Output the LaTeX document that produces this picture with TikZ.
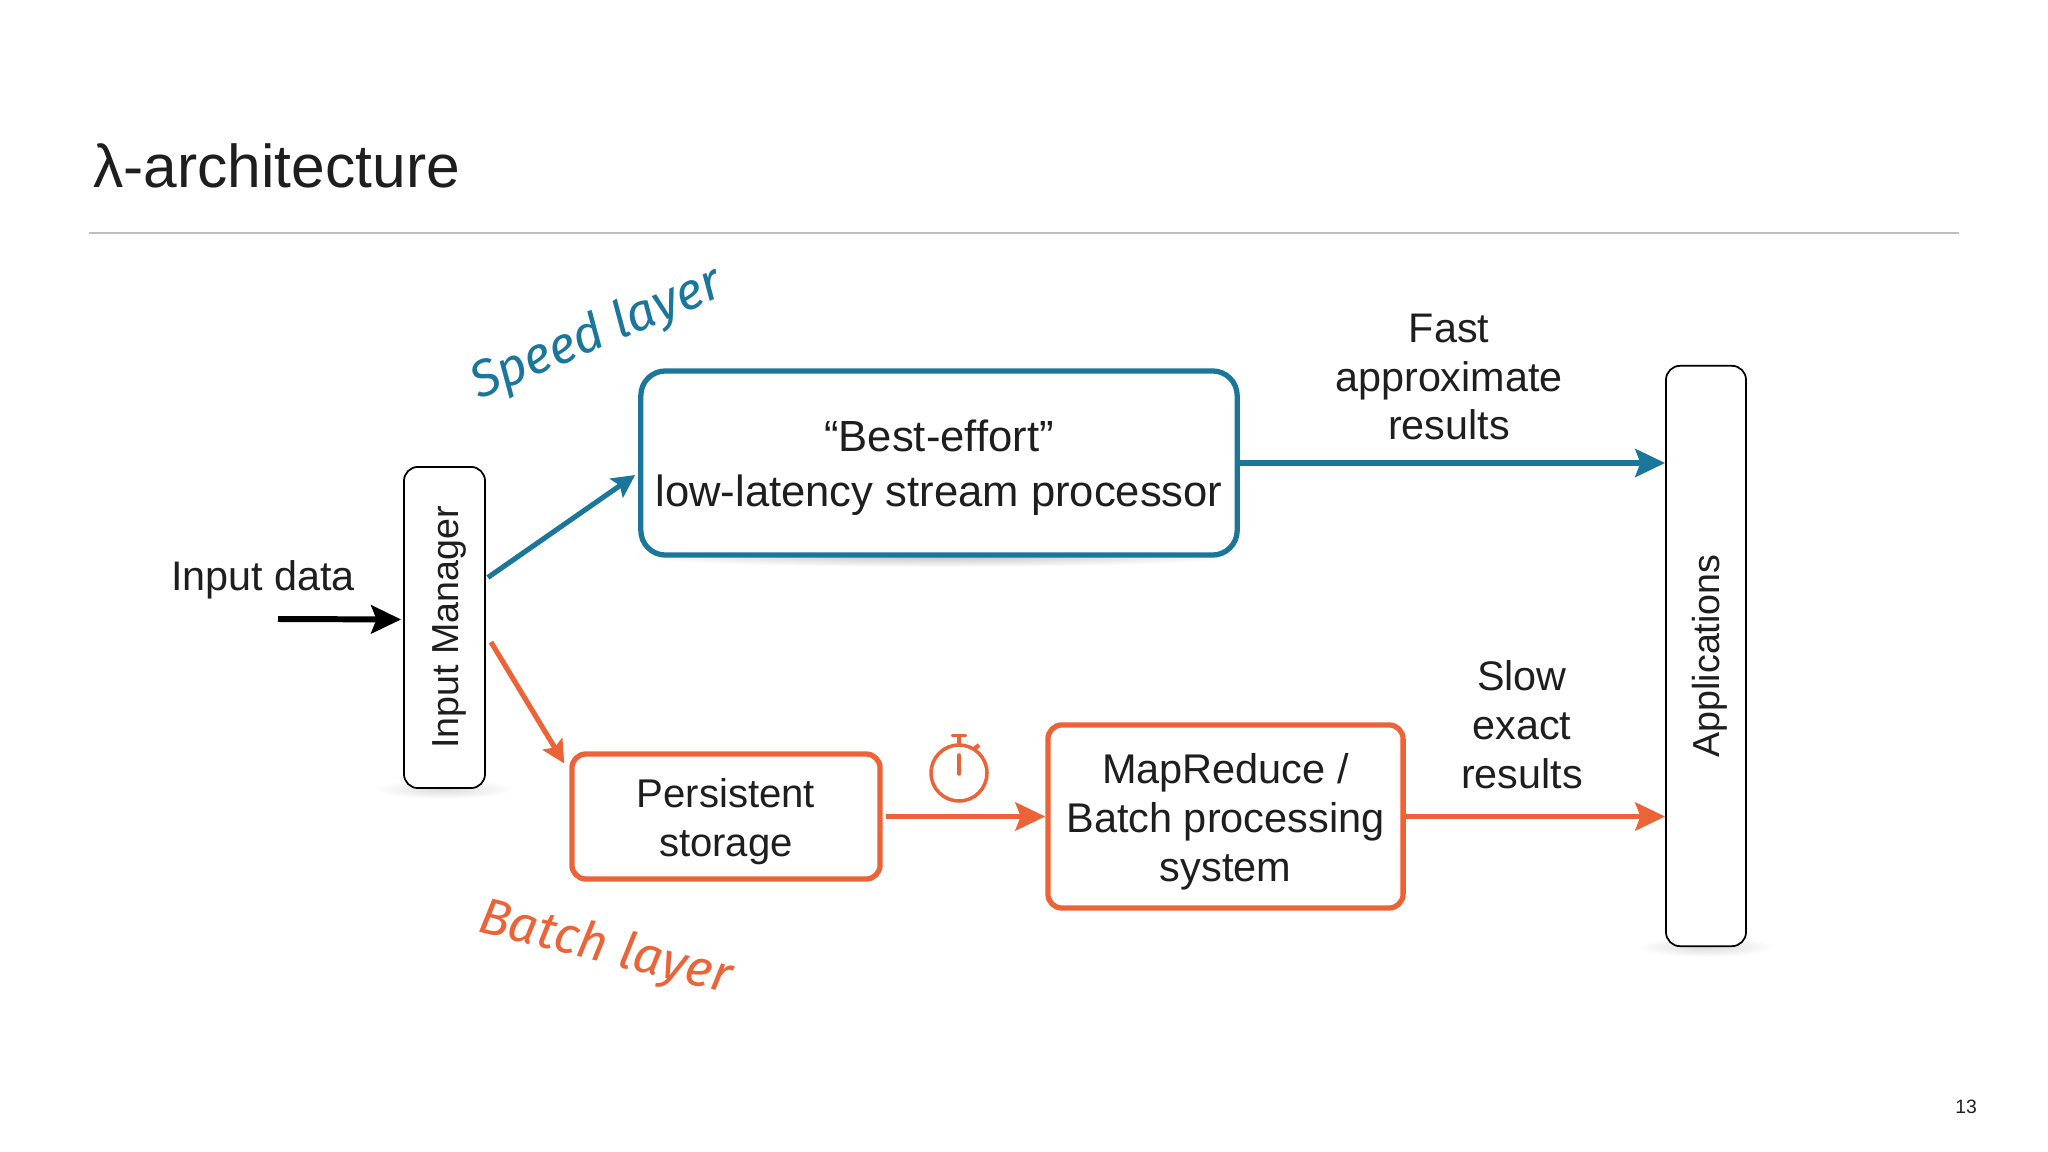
\documentclass[tikz,border=0pt]{standalone}
\usepackage{fontspec}
\setmainfont{Liberation Sans}
\newfontfamily\handfont{Fira Sans}
\usetikzlibrary{arrows.meta}
\definecolor{speedblue}{HTML}{1B769C}
\definecolor{batchorange}{HTML}{EC6337}
\definecolor{inktext}{HTML}{1E1E1E}
\tikzset{
	layerbox/.style = {draw, fill=white, text=inktext, rounded corners=4pt, line width=1.5pt, align=center, inner sep=0pt, font=\fontsize{11.7}{14.2}\selectfont},
	plainbox/.style = {draw=black, fill=white, text=inktext, rounded corners=4pt, line width=0.5pt, inner sep=0pt, font=\fontsize{10.7}{13}\selectfont},
	flow/.style = {line width=1.5pt, -{Stealth[length=8.5pt, width=8pt, inset=1.5pt]}},
	flowthin/.style = {line width=1.45pt, -{Stealth[length=6.5pt, width=6.5pt, inset=1.2pt]}},
	caption/.style = {align=center, text=inktext, font=\fontsize{11.75}{13.9}\selectfont},
	hand/.style = {font=\handfont\itshape\fontsize{14.6}{18}\selectfont},
	softshadow/.style = {inner color=black!14, outer color=white}
}
\begin{document}
\begin{tikzpicture}[x = 0.01cm, y = -0.01cm]
			\useasboundingbox (0, 0) rectangle (2048, 1152);
			\node[anchor=west, text=inktext, font=\fontsize{17.2}{20}\selectfont] (title) at (81, 166) {λ-architecture};
			\draw[gray!50, line width=0.5pt] (89, 233) -- (1959, 233);
			\node[text=inktext, font=\fontsize{5.5}{7}\selectfont] (page) at (1966, 1107) {13};

			\shade[softshadow, inner color=black!24] (939, 556) ellipse (310 and 11);
			\shade[softshadow] (444, 789) ellipse (70 and 10);
			\shade[softshadow] (1706, 947) ellipse (70 and 10);

			\node[layerbox, draw=speedblue, rounded corners=7pt, minimum width=5.96cm, minimum height=1.84cm, font=\fontsize{12.4}{15.6}\selectfont] (best) at (939, 463) {\rule{0pt}{11.5pt}“Best-effort”\\low-latency stream processor};
			\node[plainbox, rotate=90, minimum width=3.21cm, minimum height=0.81cm] (inmgr) at (444.5, 627.5) {\rule{0pt}{10pt}Input Manager};
			\node[plainbox, rotate=90, minimum width=5.8cm, minimum height=0.8cm] (apps) at (1706, 656) {\rule{0pt}{10pt}Applications};
			\node[layerbox, draw=batchorange, minimum width=3.08cm, minimum height=1.25cm, font=\fontsize{11.4}{13.9}\selectfont] (store) at (726, 816.5) {\rule{0pt}{11pt}Persistent\\storage};
			\node[layerbox, draw=batchorange, minimum width=3.55cm, minimum height=1.83cm, font=\fontsize{11.8}{13.9}\selectfont] (mapred) at (1225.5, 816.5) {\rule{0pt}{11.7pt}MapReduce /\\Batch processing\\system};

			\node[caption] (inlabel) at (263, 580) {Input data};
			\node[caption] (fastlabel) at (1449, 377) {Fast\\approximate\\results};
			\node[caption] (slowlabel) at (1522, 725) {Slow\\exact\\results};
			\node[hand, text=speedblue, rotate=23] (speedlabel) at (597, 335) {Speed layer};
			\node[hand, text=batchorange, rotate=-14] (batchlabel) at (605, 949) {Batch layer};

			\coordinate (infeed) at (278, 619);
			\draw[flow, line width=1.7pt] (infeed) -- ([yshift=0.08cm, xshift=-0.02cm]inmgr.north);
			\draw[flowthin, speedblue] ([xshift=0.02cm, yshift=0.5cm]inmgr.south) -- ([xshift=-0.03cm, yshift=-0.12cm]best.west);
			\draw[flowthin, batchorange] ([xshift=0.05cm, yshift=-0.145cm]inmgr.south) -- ([xshift=-0.05cm, yshift=0.53cm]store.west);
			\draw[flow, speedblue] (best.east) -- (best.east -| apps.north);
			\draw[flow, batchorange] ([xshift=0.03cm]store.east) -- (mapred.west);
			\draw[flow, batchorange] (mapred.east) -- (mapred.east -| apps.north);

			\draw[batchorange, line width=1pt] (959, 773) circle(28);
			\draw[batchorange, line width=1pt, line cap=round] (959, 755) -- (959, 774);
			\draw[batchorange, line width=1pt] (959, 745) -- (959, 736);
			\draw[batchorange, line width=1.1pt, line cap=round] (953, 735.5) -- (965, 735.5);
			\draw[batchorange, line width=1.2pt] (974, 749) -- (979, 745);
\end{tikzpicture}
\end{document}
